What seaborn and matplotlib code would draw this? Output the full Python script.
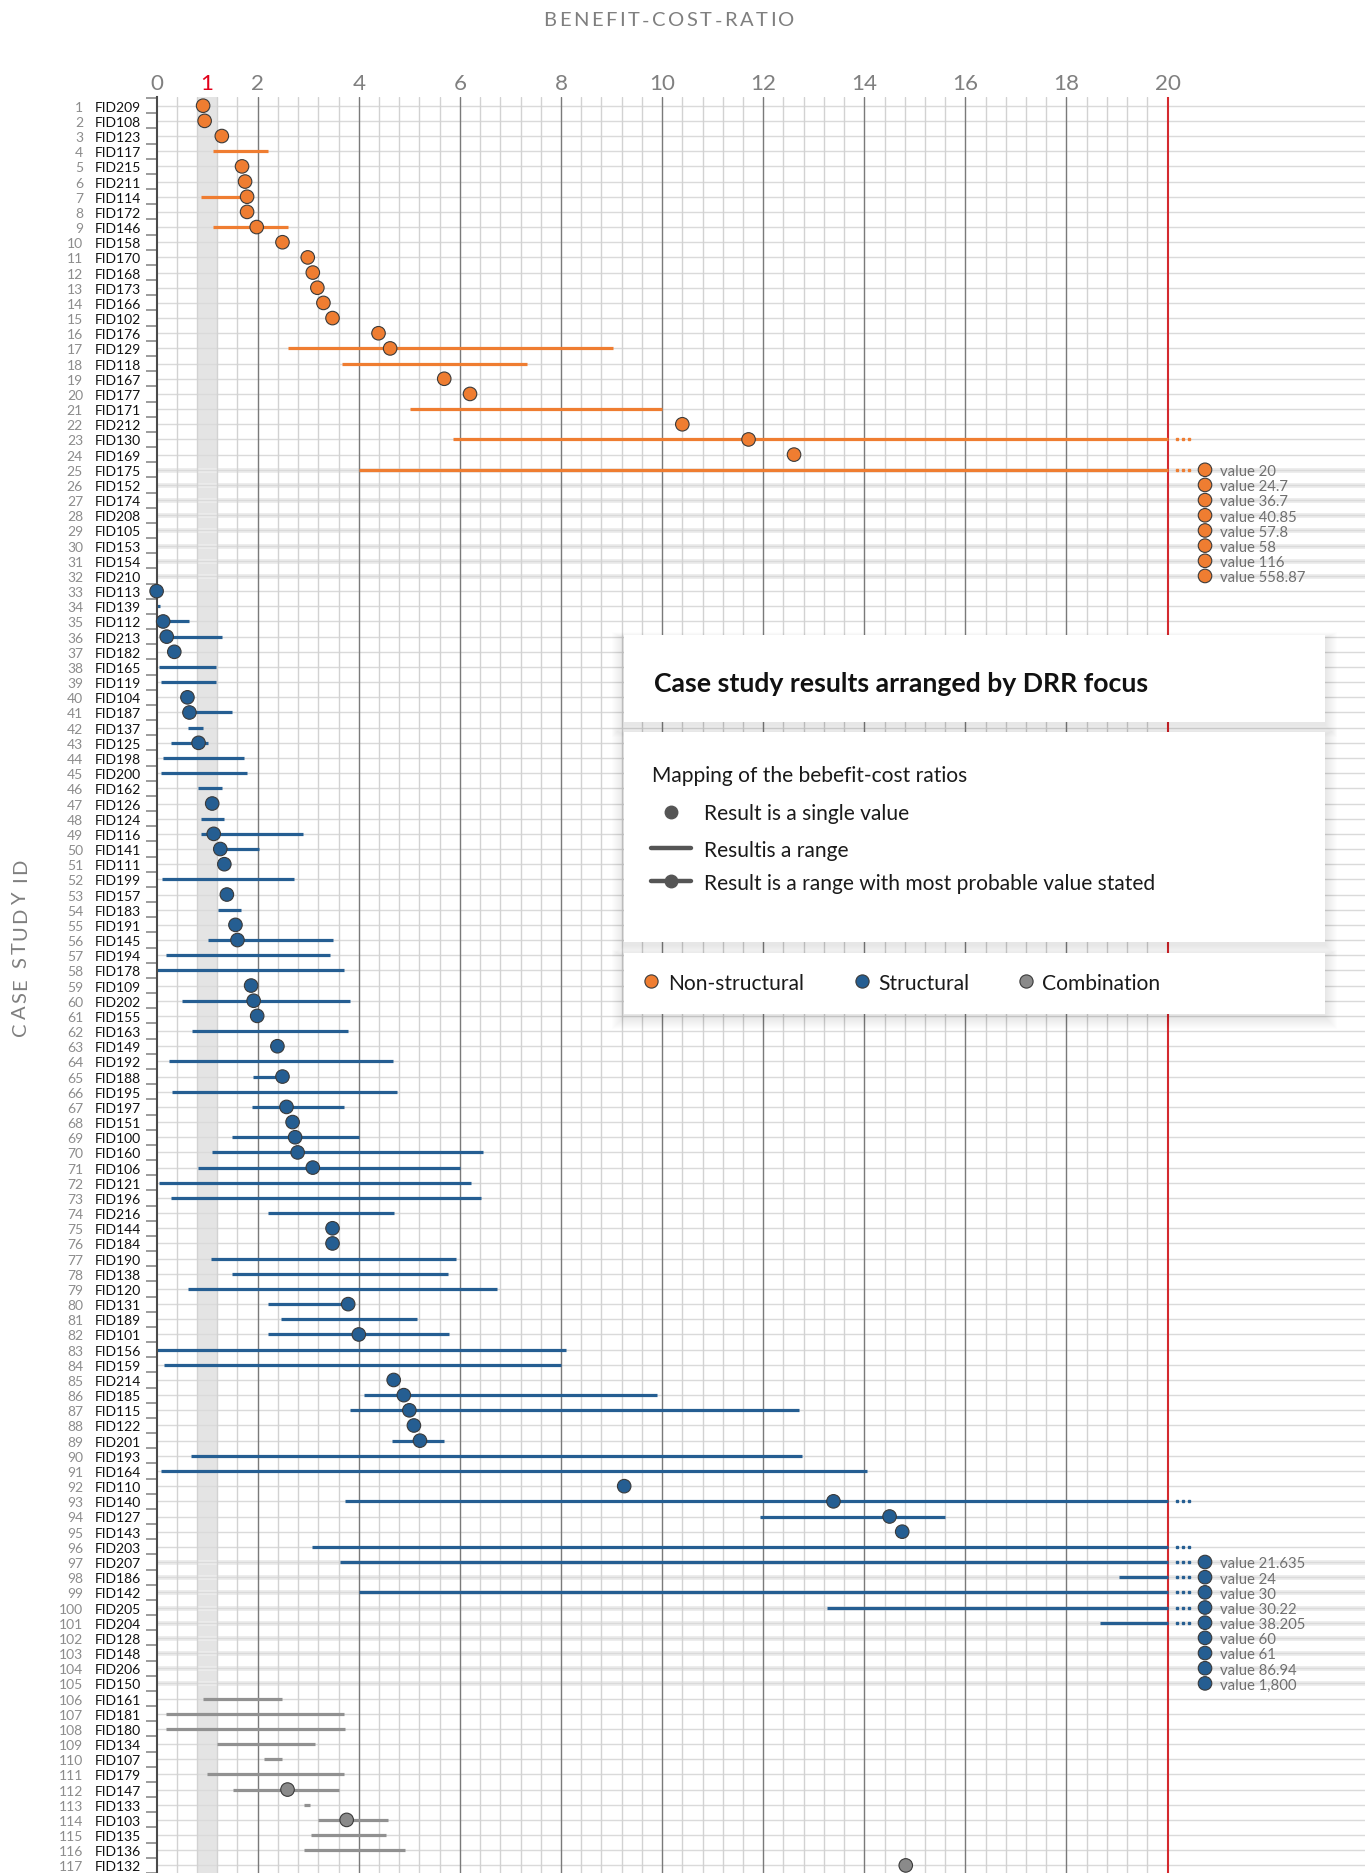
import numpy as np
import pandas as pd
import matplotlib
matplotlib.use("Agg")
import matplotlib.pyplot as plt
import seaborn as sns
from matplotlib.patches import Rectangle
from matplotlib.lines import Line2D
from matplotlib.font_manager import FontProperties

N = np.nan
INF = np.inf

# ---------------- data ----------------
ns_ids = ["FID209", "FID108", "FID123", "FID117", "FID215", "FID211", "FID114", "FID172", "FID146", "FID158",
          "FID170", "FID168", "FID173", "FID166", "FID102", "FID176", "FID129", "FID118", "FID167", "FID177",
          "FID171", "FID212", "FID130", "FID169", "FID175", "FID152", "FID174", "FID208", "FID105", "FID153",
          "FID154", "FID210"]
ns_low = [N, N, N, 1.11, N, N, 0.87, N, 1.11, N,
          N, N, N, N, N, N, 2.59, 3.67, N, N,
          5.01, N, 5.87, N, 4.0, N, N, N, N, N,
          N, N]
ns_high = [N, N, N, 2.20, N, N, 1.79, N, 2.60, N,
           N, N, N, N, N, N, 9.02, 7.33, N, N,
           10.0, N, INF, N, 20, N, N, N, N, N,
           N, N]
ns_best = [0.92, 0.95, 1.29, N, 1.69, 1.75, 1.79, 1.79, 1.98, 2.49,
           2.99, 3.09, 3.18, 3.30, 3.48, 4.39, 4.62, N, 5.69, 6.20,
           N, 10.40, 11.71, 12.61, N, 24.7, 36.7, 40.85, 57.8, 58,
           116, 558.87]

st_ids = ["FID113", "FID139", "FID112", "FID213", "FID182", "FID165", "FID119", "FID104", "FID187", "FID137",
          "FID125", "FID198", "FID200", "FID162", "FID126", "FID124", "FID116", "FID141", "FID111", "FID199",
          "FID157", "FID183", "FID191", "FID145", "FID194", "FID178", "FID109", "FID202", "FID155", "FID163",
          "FID149", "FID192", "FID188", "FID195", "FID197", "FID151", "FID100", "FID160", "FID106", "FID121",
          "FID196", "FID216", "FID144", "FID184", "FID190", "FID138", "FID120", "FID131", "FID189", "FID101",
          "FID156", "FID159", "FID214", "FID185", "FID115", "FID122", "FID201", "FID193", "FID164", "FID110",
          "FID140", "FID127", "FID143", "FID203", "FID207", "FID186", "FID142", "FID205", "FID204", "FID128",
          "FID148", "FID206", "FID150"]
st_low = [N, 0.0, 0.04, 0.10, N, 0.04, 0.08, N, 0.58, 0.63,
          0.29, 0.12, 0.08, 0.81, N, 0.88, 0.88, 1.14, N, 0.10,
          N, 1.22, N, 1.01, 0.18, 0.01, N, 0.51, N, 0.70,
          N, 0.25, 1.91, 0.30, 1.89, N, 1.50, 1.10, 0.81, 0.04,
          0.28, 2.21, N, N, 1.08, 1.49, 0.62, 2.21, 2.47, 2.21,
          0.01, 0.15, N, 4.11, 3.82, N, 4.65, 0.69, 0.08, N,
          3.72, 11.94, N, 3.08, 3.63, 19.03, 4.01, 13.27, 18.67, N,
          N, N, N]
st_high = [N, 0.07, 0.65, 1.30, N, 1.18, 1.17, N, 1.49, 0.91,
           1.02, 1.72, 1.79, 1.30, N, 1.34, 2.90, 2.03, N, 2.71,
           N, 1.66, N, 3.49, 3.43, 3.71, N, 3.82, N, 3.79,
           N, 4.68, 2.49, 4.75, 3.71, N, 4.0, 6.45, 6.0, 6.22,
           6.42, 4.69, N, N, 5.93, 5.76, 6.73, 3.79, 5.15, 5.79,
           8.10, 8.0, N, 9.90, 12.70, N, 5.68, 12.77, 14.05, N,
           INF, 15.60, N, INF, 21.635, 24, 30, 30.22, 38.205, N,
           N, N, N]
st_best = [0.0, N, 0.13, 0.20, 0.35, N, N, 0.61, 0.65, N,
           0.83, N, N, N, 1.10, N, 1.13, 1.26, 1.34, N,
           1.39, N, 1.56, 1.60, N, N, 1.87, 1.92, 1.99, N,
           2.39, N, 2.49, N, 2.57, 2.69, 2.74, 2.79, 3.09, N,
           N, N, 3.48, 3.48, N, N, N, 3.79, N, 4.0,
           N, N, 4.69, 4.89, 5.0, 5.09, 5.21, N, N, 9.25,
           13.39, 14.50, 14.75, N, N, N, N, N, N, 60,
           61, 86.94, 1800]

co_ids = ["FID161", "FID181", "FID180", "FID134", "FID107", "FID179", "FID147", "FID133", "FID103", "FID135",
          "FID136", "FID132"]
co_low = [0.91, 0.19, 0.19, 1.20, 2.13, 0.99, 1.52, 2.91, 3.19, 3.05, 2.91, N]
co_high = [2.49, 3.70, 3.73, 3.14, 2.49, 3.70, 3.61, 3.04, 4.58, 4.54, 4.91, N]
co_best = [N, N, N, N, N, N, 2.59, N, 3.76, N, N, 14.82]

categories = ["Non-structural", "Structural", "Combination"]
x_ticks = [0, 1, 2, 4, 6, 8, 10, 12, 14, 16, 18, 20]
x_cut = 20

# ---------------- styling ----------------
FONTS = ["Lato", "DejaVu Sans"]
sns.set_theme(style="white")
plt.rcParams["font.family"] = FONTS

palette = {"Non-structural": "#ef7d31", "Structural": "#255e92", "Combination": "#8a8a8a"}
line_col = {"Non-structural": "#ef7d31", "Structural": "#255e92", "Combination": "#919191"}

df = pd.DataFrame({
    "id": ns_ids + st_ids + co_ids,
    "focus": [categories[0]] * len(ns_ids) + [categories[1]] * len(st_ids) + [categories[2]] * len(co_ids),
    "low": ns_low + st_low + co_low,
    "high": ns_high + st_high + co_high,
    "best": ns_best + st_best + co_best,
})
df["row"] = np.arange(1, len(df) + 1)
df["over"] = np.where(df["best"] > x_cut, df["best"],
                      np.where(np.isfinite(df["high"]) & (df["high"] >= x_cut), df["high"], np.nan))
df["cont"] = df["high"] >= x_cut

W, H = 1365, 1874
fig = plt.figure(figsize=(W / 100, H / 100), dpi=100)
renderer = fig.canvas.get_renderer()

X0, PXU = 156.6, 50.55
Y_TOP, ROW1, ROWPX = 98.0, 106.7, 15.17

ax = fig.add_axes([X0 / W, 0, 1 - X0 / W, 1 - Y_TOP / H])
ax.set_xlim(0, (W - X0) / PXU)
ax.set_ylim(1 + (H - ROW1) / ROWPX, 1 - (ROW1 - Y_TOP) / ROWPX)


def fx(x):
    return x / W


def fy(y):
    return 1 - y / H


def text_w(s, size, weight="normal"):
    fp = FontProperties(family=FONTS, size=size, weight=weight)
    w, h, d = renderer.get_text_width_height_descent(s, fp, ismath=False)
    return w


def fit(s, target, weight="normal"):
    return 10 * target / text_w(s, 10, weight)


def cap(size):
    return 0.72 * size * 100 / 72


# background band around 1 and grid
ax.axvspan(0.8, 1.2, color="#e4e4e4", zorder=0, lw=0)
for v in np.arange(0.4, 20, 0.4):
    if abs(v / 2 - round(v / 2)) > 0.01:
        ax.axvline(v, color="#d2d2d2", lw=1.0, zorder=0.5)
for v in range(2, 20, 2):
    ax.axvline(v, color="#7a7a7a", lw=1.0, zorder=0.6)
ax.axvline(x_cut, color="#d42a2f", lw=1.5, zorder=0.7)

for r, o in zip(df["row"], df["over"]):
    if np.isfinite(o):
        ax.axhline(r, color="#ececec", lw=3.5, zorder=0.3)
    ax.axhline(r, color="#dadada", lw=1.0, zorder=0.4)

# range lines
for _, d in df[df["low"].notna()].iterrows():
    ax.hlines(d["row"], d["low"], min(d["high"], x_cut), color=line_col[d["focus"]],
              lw=2.3, zorder=2, capstyle="butt")
    if d["cont"]:
        ax.plot([20.18, 20.30, 20.42], [d["row"]] * 3, ls="", marker="s", ms=1.9,
                color=line_col[d["focus"]], zorder=2)

# points
pts = df[df["best"] <= x_cut]
sns.scatterplot(data=pts, x="best", y="row", hue="focus", palette=palette, s=95,
                edgecolor="#3a3a3a", linewidth=0.8, legend=False, zorder=3, ax=ax, clip_on=False)
ovr = df[df["over"].notna()].copy()
ovr["xpos"] = 20.74
sns.scatterplot(data=ovr, x="xpos", y="row", hue="focus", palette=palette, s=95,
                edgecolor="#3a3a3a", linewidth=0.8, legend=False, zorder=3, ax=ax, clip_on=False)

s_row = fit("FID209", 46)
s_val = fit("value 558.87", 85)
for _, d in ovr.iterrows():
    ax.text(21.03, d["row"] + cap(s_val) / 2 / ROWPX, "value " + format(d["over"], ",g"),
            fontsize=s_val, color="#707070", va="baseline", ha="left", zorder=4)

# row labels
for _, d in df.iterrows():
    yb = d["row"] + cap(s_row) / 2 / ROWPX
    ax.text((83 - X0) / PXU, yb, str(d["row"]), fontsize=s_row, color="#8c8c8c",
            ha="right", va="baseline", clip_on=False)
    ax.text((94.6 - X0) / PXU, yb, d["id"], fontsize=s_row, color="#111111",
            ha="left", va="baseline", clip_on=False)

# axes cosmetics
ax.set_xlabel("")
ax.set_ylabel("")
ax.xaxis.set_ticks_position("top")
ax.set_xticks(x_ticks)
ax.set_xticklabels([str(t) for t in x_ticks])
s_tick = fit("10", 26)
ax.tick_params(axis="x", length=0, pad=3, labelsize=s_tick, labelcolor="#808080")
ax.get_xticklabels()[1].set_color("#e2001a")
ax.set_yticks([])
ax.set_yticks(np.arange(0.5, len(df) + 1, 1), minor=True)
ax.tick_params(axis="y", which="minor", direction="out", length=8, width=1.2, color="#8a8a8a", left=True)
for sp in ["top", "right", "bottom"]:
    ax.spines[sp].set_visible(False)
ax.spines["left"].set_color("#4a4a4a")
ax.spines["left"].set_linewidth(1.5)


# letter-spaced titles
def spaced(cx, cy, s, size, total, color, vertical=False):
    ws = [text_w(c, size) for c in s]
    gap = (total - sum(ws)) / (len(s) - 1)
    pos = -total / 2
    for c, w in zip(s, ws):
        mid = pos + w / 2
        if vertical:
            fig.text(fx(cx + cap(size) / 2), fy(cy - mid), c, fontsize=size, color=color,
                     rotation=90, rotation_mode="anchor", ha="center", va="baseline")
        else:
            fig.text(fx(cx + mid), fy(cy + cap(size) / 2), c, fontsize=size, color=color,
                     ha="center", va="baseline")
        pos += w + gap


spaced(669, 19, "BENEFIT-COST-RATIO", 14.5, 251, "#7f7f7f")
spaced(19, 947, "CASE STUDY ID", 14.5, 177, "#7f7f7f", vertical=True)


# legend panels
def panel(x0, y0, x1, y1):
    for k in range(1, 13):
        top = y0 + 3 - 0.5 * k
        bot = y1 + 3 + k
        fig.add_artist(Rectangle((fx(x0 - k), fy(bot)), (x1 - x0 + 2 * k) / W, (bot - top) / H,
                                 transform=fig.transFigure, facecolor="black", alpha=0.009,
                                 edgecolor="none", zorder=9))
    fig.add_artist(Rectangle((fx(x0), fy(y1)), (x1 - x0) / W, (y1 - y0) / H,
                             transform=fig.transFigure, facecolor="white", edgecolor="none", zorder=10))


panel(623.7, 636, 1324.8, 722.7)
panel(623.7, 732.7, 1324.8, 943.3)
panel(623.7, 954, 1324.8, 1015)


def ftext(x, yc, s, size, weight="normal", color="#1a1a1a"):
    fig.text(fx(x), fy(yc + cap(size) / 2), s, fontsize=size, weight=weight, color=color,
             ha="left", va="baseline", zorder=11)


s_head = fit("Case study results arranged by DRR focus", 495, "bold")
ftext(654.4, 682, "Case study results arranged by DRR focus", s_head, "bold", "#111111")
s_body = fit("Result is a range with most probable value stated", 452)
ftext(652, 774, "Mapping of the bebefit-cost ratios", s_body)
ftext(704, 812, "Result is a single value", s_body)
ftext(704, 849, "Resultis a range", s_body)
ftext(704, 882, "Result is a range with most probable value stated", s_body)

grey = "#555555"
fig.add_artist(Line2D([fx(671)], [fy(813)], transform=fig.transFigure, ls="", marker="o", ms=9,
                      color=grey, mec=grey, zorder=11))
fig.add_artist(Line2D([fx(651), fx(691)], [fy(849)] * 2, transform=fig.transFigure, lw=3.2,
                      color=grey, solid_capstyle="round", zorder=11))
fig.add_artist(Line2D([fx(651), fx(691)], [fy(882)] * 2, transform=fig.transFigure, lw=3.2,
                      color=grey, solid_capstyle="round", zorder=11))
fig.add_artist(Line2D([fx(671)], [fy(882)], transform=fig.transFigure, ls="", marker="o", ms=9,
                      color=grey, mec=grey, zorder=11))

for cat, xd, xt in zip(categories, [651, 862, 1026], [668, 878.5, 1042]):
    fig.add_artist(Line2D([fx(xd)], [fy(982)], transform=fig.transFigure, ls="", marker="o", ms=9.5,
                          color=palette[cat], mec="#3a3a3a", mew=0.8, zorder=11))
    ftext(xt, 982, cat, s_body)

fig.savefig("out.png", dpi=100)
